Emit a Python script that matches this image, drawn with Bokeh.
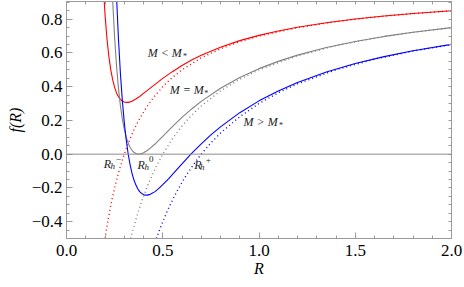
from bokeh.plotting import figure
from bokeh.models import Range1d, LinearAxis, FixedTicker, Span
from bokeh.core.properties import value
from bokeh.embed import file_html
from bokeh.resources import INLINE

# ---- data ----
# solid curves f(R)
r_red = [0.19, 0.20, 0.21, 0.22, 0.23, 0.24, 0.25, 0.26, 0.27, 0.28, 0.29, 0.30, 0.31, 0.32,
         0.33, 0.34, 0.36, 0.38, 0.40, 0.43, 0.46, 0.50, 0.55, 0.60, 0.65, 0.70, 0.80, 0.90,
         1.0, 1.1, 1.2, 1.35, 1.5, 1.65, 1.8, 2.0]
f_red = [1.020, 0.830, 0.687, 0.580, 0.500, 0.440, 0.396, 0.363, 0.340, 0.325, 0.315, 0.309,
         0.307, 0.307, 0.310, 0.314, 0.327, 0.342, 0.360, 0.387, 0.414, 0.449, 0.489, 0.526,
         0.558, 0.586, 0.634, 0.673, 0.704, 0.730, 0.752, 0.779, 0.801, 0.819, 0.834, 0.850]

r_gray = [0.235, 0.24, 0.25, 0.26, 0.27, 0.28, 0.29, 0.30, 0.31, 0.32, 0.33, 0.34, 0.35, 0.36,
          0.37, 0.38, 0.39, 0.40, 0.42, 0.44, 0.46, 0.48, 0.50, 0.55, 0.60, 0.65, 0.70, 0.80,
          0.90, 1.0, 1.1, 1.2, 1.35, 1.5, 1.65, 1.8, 2.0]
f_gray = [1.036, 0.906, 0.690, 0.521, 0.390, 0.288, 0.209, 0.148, 0.102, 0.067, 0.041, 0.023,
          0.011, 0.004, 0.001, 0.001, 0.003, 0.008, 0.022, 0.040, 0.060, 0.083, 0.106, 0.163,
          0.218, 0.268, 0.313, 0.391, 0.455, 0.507, 0.550, 0.587, 0.632, 0.668, 0.698, 0.723,
          0.750]

r_blue = [0.255, 0.26, 0.27, 0.28, 0.29, 0.30, 0.31, 0.32, 0.33, 0.34, 0.35, 0.36, 0.37, 0.38,
          0.39, 0.40, 0.41, 0.42, 0.43, 0.44, 0.46, 0.48, 0.50, 0.53, 0.56, 0.60, 0.65, 0.70,
          0.75, 0.80, 0.90, 1.0, 1.1, 1.2, 1.35, 1.5, 1.65, 1.8, 2.0]
f_blue = [1.080, 0.932, 0.681, 0.480, 0.319, 0.190, 0.087, 0.004, -0.060, -0.112, -0.152,
          -0.182, -0.205, -0.222, -0.233, -0.239, -0.243, -0.243, -0.240, -0.235, -0.222,
          -0.203, -0.181, -0.146, -0.108, -0.057, 0.004, 0.061, 0.114, 0.162, 0.246, 0.316,
          0.375, 0.425, 0.487, 0.537, 0.578, 0.613, 0.651]

# dotted curves
r_red_dot = [0.20, 0.21, 0.22, 0.23, 0.24, 0.25, 0.27, 0.29, 0.31, 0.33, 0.35, 0.38, 0.41,
             0.45, 0.50, 0.55, 0.60, 0.70, 0.80, 0.90, 1.0, 1.2, 1.4, 1.6, 1.8, 2.0]
f_red_dot = [-0.500, -0.429, -0.364, -0.304, -0.250, -0.200, -0.111, -0.035, 0.032, 0.091,
             0.143, 0.211, 0.268, 0.333, 0.400, 0.455, 0.500, 0.571, 0.625, 0.667, 0.700,
             0.750, 0.786, 0.813, 0.833, 0.850]

r_gray_dot = [0.333, 0.35, 0.37, 0.39, 0.41, 0.43, 0.46, 0.50, 0.55, 0.60, 0.65, 0.70, 0.80,
              0.90, 1.0, 1.2, 1.4, 1.6, 1.8, 2.0]
f_gray_dot = [-0.500, -0.429, -0.351, -0.282, -0.220, -0.163, -0.087, 0.000, 0.091, 0.167,
              0.231, 0.286, 0.375, 0.444, 0.500, 0.583, 0.643, 0.688, 0.722, 0.750]

r_blue_dot = [0.467, 0.49, 0.52, 0.55, 0.58, 0.62, 0.66, 0.70, 0.75, 0.80, 0.90, 1.0, 1.1,
              1.2, 1.4, 1.6, 1.8, 2.0]
f_blue_dot = [-0.500, -0.429, -0.346, -0.273, -0.207, -0.129, -0.061, 0.000, 0.067, 0.125,
              0.222, 0.300, 0.364, 0.417, 0.500, 0.563, 0.611, 0.650]

# ticks
x_ticks = [0.0, 0.5, 1.0, 1.5, 2.0]
x_tick_labels = ["0.0", "0.5", "1.0", "1.5", "2.0"]
x_minor = [0.0, 0.1, 0.2, 0.3, 0.4, 0.5, 0.6, 0.7, 0.8, 0.9, 1.0, 1.1, 1.2, 1.3, 1.4, 1.5,
           1.6, 1.7, 1.8, 1.9, 2.0]
y_ticks = [-0.4, -0.2, 0.0, 0.2, 0.4, 0.6, 0.8]
y_tick_labels = ["\u22120.4", "\u22120.2", "0.0", "0.2", "0.4", "0.6", "0.8"]
y_minor = [-0.5, -0.45, -0.4, -0.35, -0.3, -0.25, -0.2, -0.15, -0.1, -0.05, 0.0, 0.05, 0.1,
           0.15, 0.2, 0.25, 0.3, 0.35, 0.4, 0.45, 0.5, 0.55, 0.6, 0.65, 0.7, 0.75, 0.8, 0.85,
           0.9]

# annotations
mass_labels = ["M < M", "M = M", "M > M"]
mass_x = [0.422, 0.536, 0.920]
mass_y = [0.598, 0.380, 0.190]
star_x = [0.605, 0.716, 1.104]
star_y = [0.580, 0.362, 0.170]

rh_x = [0.194, 0.369, 0.664]
rh_y = [-0.056, -0.062, -0.062]
h_x = [0.228, 0.405, 0.693]
h_y = [-0.072, -0.077, -0.075]
sup_text = ["\u2212", "0", "+"]
sup_x = [0.256, 0.429, 0.724]
sup_y = [-0.030, -0.028, -0.035]

SERIF_NAME = "'Liberation Serif'"
SERIF = value("Liberation Serif")
FRAME = "#9a9a9a"

p = figure(width=464, height=287, x_range=Range1d(0, 2), y_range=Range1d(-0.5, 0.905),
           output_backend="svg", toolbar_location=None, x_axis_type=None, y_axis_type=None,
           min_border_left=66, min_border_right=13, min_border_top=1, min_border_bottom=49)
p.outline_line_color = None
p.background_fill_color = "white"
p.border_fill_color = "white"


def style_axis(ax):
    ax.axis_line_color = FRAME
    ax.major_tick_line_color = FRAME
    ax.minor_tick_line_color = FRAME
    ax.major_tick_in = 6
    ax.major_tick_out = 0
    ax.minor_tick_in = 3
    ax.minor_tick_out = 0
    ax.major_label_text_font = SERIF_NAME
    ax.major_label_text_font_size = "17px"
    ax.major_label_text_color = "black"
    ax.axis_label_text_font = SERIF_NAME
    ax.axis_label_text_font_style = "italic"
    ax.axis_label_text_font_size = "16px"
    ax.axis_label_text_color = "black"
    ax.major_label_standoff = 4


xb = LinearAxis(ticker=FixedTicker(ticks=x_ticks, minor_ticks=x_minor),
                major_label_overrides=dict(zip(x_ticks, x_tick_labels)), axis_label="R")
style_axis(xb)
xb.major_label_standoff = 6
xb.axis_label_standoff = 1
p.add_layout(xb, "below")

yl = LinearAxis(ticker=FixedTicker(ticks=y_ticks, minor_ticks=y_minor),
                major_label_overrides=dict(zip(y_ticks, y_tick_labels)), axis_label="f(R)")
style_axis(yl)
yl.axis_label_standoff = 5
p.add_layout(yl, "left")

# mirrored frame ticks (no labels) on top and right
xt = LinearAxis(ticker=FixedTicker(ticks=[], minor_ticks=x_minor))
style_axis(xt)
xt.major_label_standoff = 0
xt.axis_label_standoff = 0
p.add_layout(xt, "above")

yr = LinearAxis(ticker=FixedTicker(ticks=[], minor_ticks=y_minor))
style_axis(yr)
yr.major_label_standoff = 0
yr.axis_label_standoff = 0
p.add_layout(yr, "right")

p.add_layout(Span(location=0, dimension="width", line_color="#8c8c8c", line_width=1))

dots = "1 3"
p.line(r_red_dot, f_red_dot, line_color="#ff0000", line_width=1.4, line_dash=dots)
p.line(r_gray_dot, f_gray_dot, line_color="#808080", line_width=1.4, line_dash=dots)
p.line(r_blue_dot, f_blue_dot, line_color="#0000ff", line_width=1.4, line_dash=dots)

p.line(r_red, f_red, line_color="#ff0000", line_width=1.1)
p.line(r_gray, f_gray, line_color="#808080", line_width=1.1)
p.line(r_blue, f_blue, line_color="#0000ff", line_width=1.1)

p.text(x=mass_x, y=mass_y, text=mass_labels, text_font=SERIF, text_font_style="italic",
       text_font_size="12px", text_baseline="middle", text_align="left", text_color="#222222")
p.text(x=star_x, y=star_y, text=["*", "*", "*"], text_font=SERIF,
       text_font_size="8px", text_baseline="middle", text_align="left", text_color="#222222")

p.text(x=rh_x, y=rh_y, text=["R", "R", "R"], text_font=SERIF, text_font_style="italic",
       text_font_size="12px", text_baseline="middle", text_align="left", text_color="#222222")
p.text(x=h_x, y=h_y, text=["h", "h", "h"], text_font=SERIF, text_font_style="italic",
       text_font_size="9px", text_baseline="middle", text_align="left", text_color="#222222")
p.text(x=sup_x, y=sup_y, text=sup_text, text_font=SERIF,
       text_font_size="9px", text_baseline="middle", text_align="left", text_color="#222222")

open("out.html", "w").write(file_html(p, INLINE))
